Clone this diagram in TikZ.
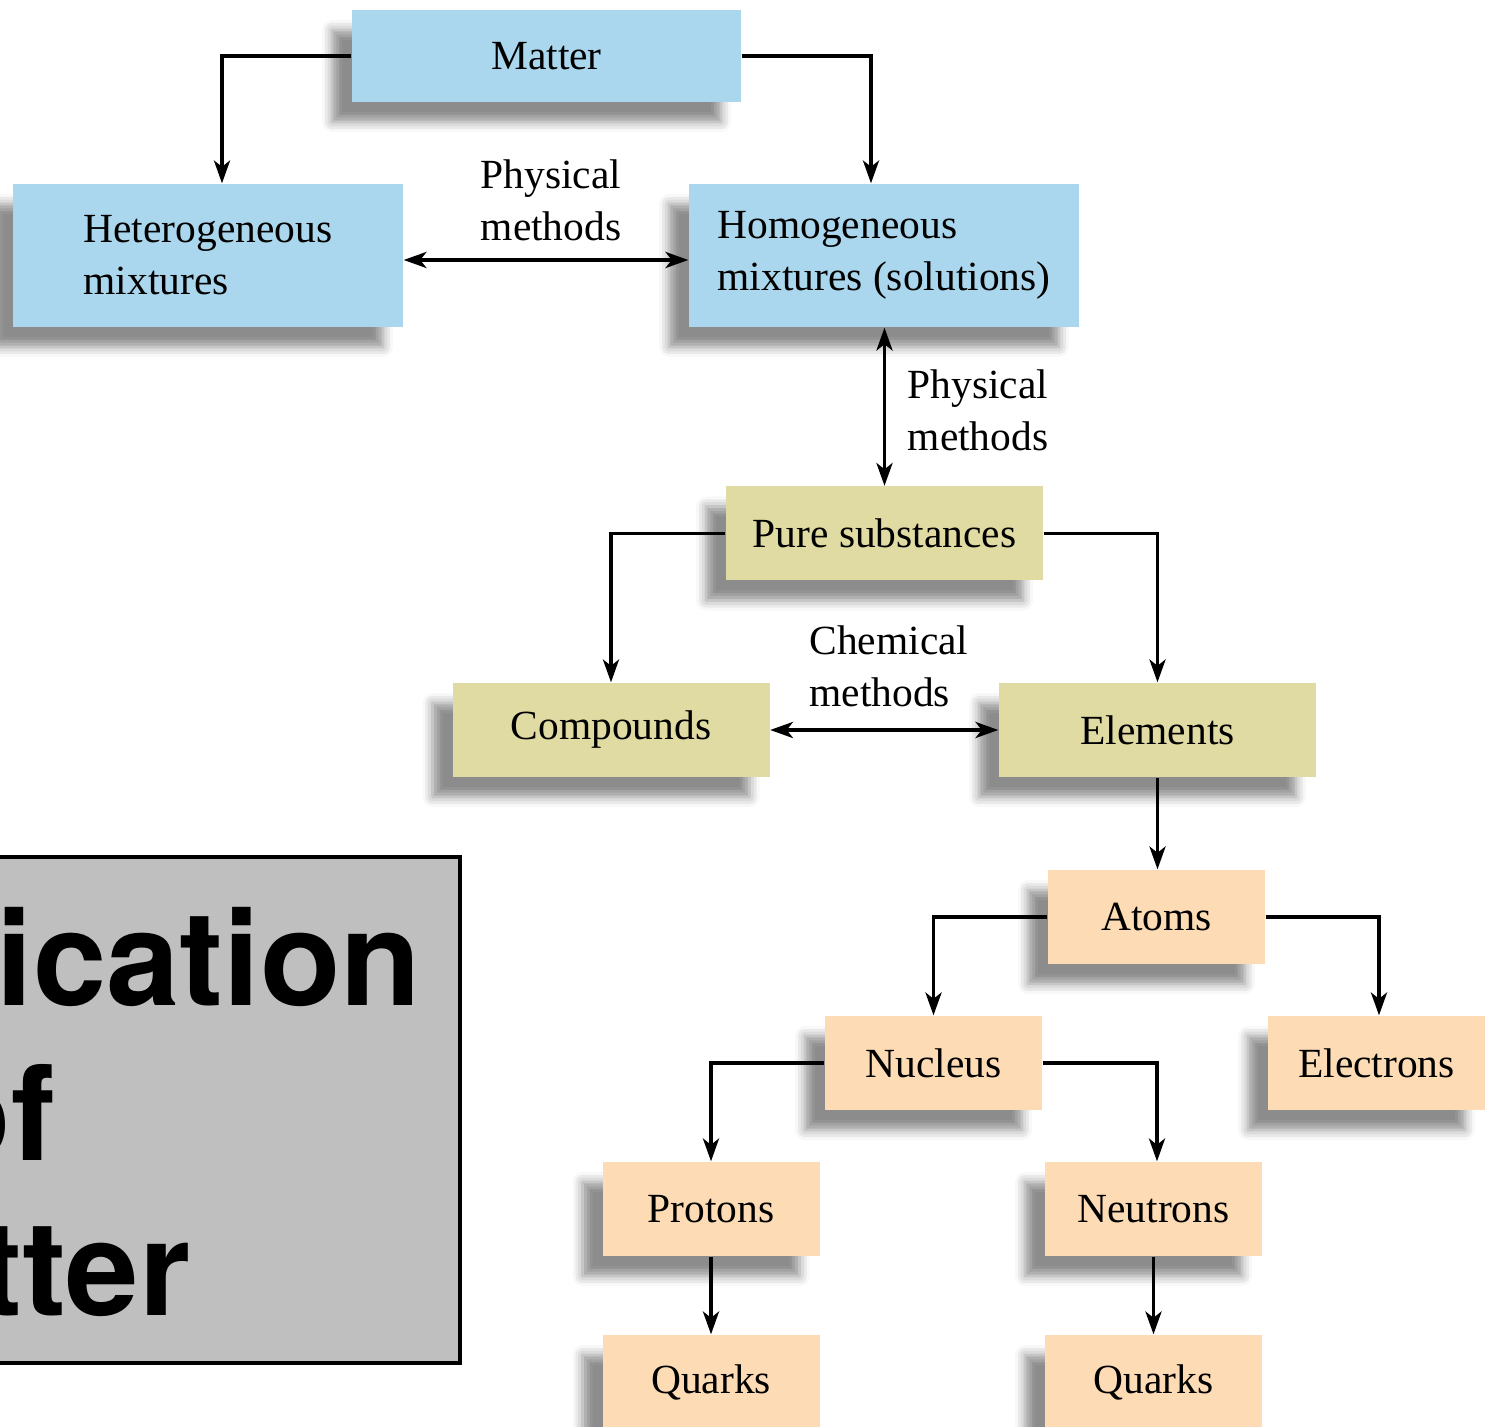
\documentclass[tikz,border=0pt]{standalone}
\usepackage{fontspec}
\setmainfont{Liberation Serif}
\newfontfamily\titlefont{TeX Gyre Heros}
\usetikzlibrary{arrows.meta,shadows.blur}

\definecolor{skyblue}{RGB}{170,215,237}
\definecolor{paleolive}{RGB}{224,219,162}
\definecolor{peach}{RGB}{253,220,181}
\definecolor{titlegray}{RGB}{191,191,191}

\begin{document}
\begin{tikzpicture}[
    font=\fontsize{11.8}{14.8}\selectfont,
    box/.style={inner sep=0pt, align=left,
        blur shadow={shadow xshift=-0.2cm, shadow yshift=-0.2cm, shadow blur radius=0.1cm, shadow opacity=45}},
    bluebox/.style={box, fill=skyblue, minimum width=3.9cm, minimum height=1.43cm},
    olivebox/.style={box, fill=paleolive, minimum width=3.17cm, minimum height=0.94cm},
    peachbox/.style={box, fill=peach, minimum width=2.17cm, minimum height=0.94cm},
    link/.style={line width=0.9pt, -{Stealth[length=6.5pt,width=4.6pt,inset=1.8pt]}},
    twoway/.style={link, {Stealth[length=6.5pt,width=4.6pt,inset=1.8pt]}-{Stealth[length=6.5pt,width=4.6pt,inset=1.8pt]}}
]
	\useasboundingbox (0,0) rectangle (14.92,-14.27);
	\clip (0,0) rectangle (14.92,-14.27);
	
	%mixtures
	\node [bluebox, minimum width=3.89cm, minimum height=0.92cm] (matter) at (5.465,-0.56){Matter};
	\node [bluebox] (hetero) at (2.08,-2.555){Heterogeneous\\mixtures};
	\node [bluebox] (homo) at (8.84,-2.555){Homogeneous\\mixtures (solutions)};
	
	%substances
	\node [olivebox] (pure) at (8.845,-5.335){Pure substances};
	\node [olivebox] (compounds) at (6.11,-7.30){Compounds};
	\node [olivebox] (elements) at (11.575,-7.30){Elements};
	
	%particles
	\node [peachbox] (atoms) at (11.565,-9.17){Atoms};
	\node [peachbox] (nucleus) at (9.335,-10.63){Nucleus};
	\node [peachbox] (electrons) at (13.765,-10.63){Electrons};
	\node [peachbox] (protons) at (7.11,-12.09){Protons};
	\node [peachbox] (neutrons) at (11.535,-12.09){Neutrons};
	\node [peachbox] (quarksP) at (7.11,-13.82){Quarks};
	\node [peachbox] (quarksN) at (11.535,-13.82){Quarks};
	
	%labels
	\node [align=left] (physA) at (5.51,-2.00){Physical\\methods};
	\node [align=left] (physB) at (9.78,-4.10){Physical\\methods};
	\node [align=left] (chem) at (8.89,-6.66){Chemical\\methods};
	
	%arrows
	\draw [link] (matter.west) -| ([xshift=0.14cm]hetero.north);
	\draw [link] (matter.east) -| ([xshift=-0.13cm]homo.north);
	\draw [twoway] ([yshift=-0.045cm]hetero.east) -- ([yshift=-0.045cm]homo.west);
	\draw [twoway] (pure.north |- homo.south) -- (pure.north);
	\draw [link] (pure.west) -| (compounds.north);
	\draw [link] (pure.east) -| (elements.north);
	\draw [twoway] (compounds.east) -- (elements.west);
	\draw [link] (elements.south) -- (elements.south |- atoms.north);
	\draw [link] (atoms.west) -| (nucleus.north);
	\draw [link] (atoms.east) -| ([xshift=0.025cm]electrons.north);
	\draw [link] (nucleus.west) -| (protons.north);
	\draw [link] (nucleus.east) -| ([xshift=0.035cm]neutrons.north);
	\draw [link] (protons) -- (quarksP);
	\draw [link] (neutrons) -- (quarksN);
	
	%title
	\node [draw=black, line width=1.1pt, fill=titlegray, minimum width=9.4cm, minimum height=5.06cm] (titlebox) at (-0.1,-11.1){};
	\node [font=\titlefont\bfseries\fontsize{37.5}{44}\selectfont, align=center, inner sep=0pt] (titletext) at (-0.07,-11.12){Classification\\of\\Matter};
\end{tikzpicture}
\end{document}
